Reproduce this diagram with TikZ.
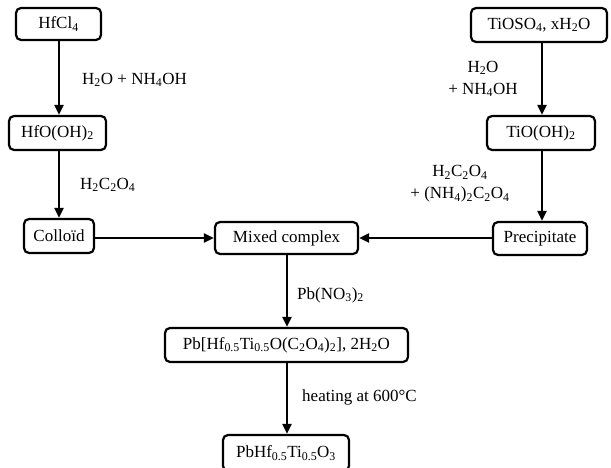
\documentclass[tikz,border=0pt]{standalone}
\usepackage{fontspec}
\setmainfont{Liberation Serif}
\usetikzlibrary{arrows.meta}
\newcommand{\sbs}[1]{\textsubscript{#1}}
\begin{document}
\begin{tikzpicture}[x=1pt,y=-1pt,
  box/.style={draw,line width=2.2pt,rounded corners=5pt,inner sep=0pt,font=\fontsize{17}{20}\selectfont},
  lbl/.style={inner sep=0pt,font=\fontsize{17}{21}\selectfont},
  arr/.style={line width=2pt,-{Triangle[length=10pt,width=9pt]}}]
\useasboundingbox (0,0) rectangle (611,468);
\node[box,minimum width=85pt,minimum height=32pt] (hfcl) at (58.5,24) {HfCl\sbs{4}};
\node[box,minimum width=97pt,minimum height=34pt] (hfo) at (57.5,133) {HfO(OH)\sbs{2}};
\node[box,minimum width=70pt,minimum height=34pt] (col) at (59,236) {Colloïd};
\node[box,minimum width=136pt,minimum height=34pt] (tis) at (539,25) {TiOSO\sbs{4}, xH\sbs{2}O};
\node[box,minimum width=108pt,minimum height=34pt] (tio) at (541,133) {TiO(OH)\sbs{2}};
\node[box,minimum width=94pt,minimum height=33pt] (pre) at (540,238.5) {Precipitate};
\node[box,minimum width=143pt,minimum height=32pt] (mix) at (286.5,238) {Mixed complex};
\node[box,minimum width=243pt,minimum height=34pt] (pbc) at (286.5,345) {Pb[Hf\sbs{0.5}Ti\sbs{0.5}O(C\sbs{2}O\sbs{4})\sbs{2}], 2H\sbs{2}O};
\node[box,minimum width=126pt,minimum height=36pt] (pbh) at (286,453) {PbHf\sbs{0.5}Ti\sbs{0.5}O\sbs{3}};
\coordinate (lx) at (59,0);
\coordinate (rx) at (542,0);
\coordinate (mx) at (287,0);
\coordinate (hy) at (0,238);
\draw[arr] (hfcl.south -| lx) -- (hfo.north -| lx);
\draw[arr] (hfo.south -| lx) -- (col.north -| lx);
\draw[arr] (tis.south -| rx) -- (tio.north -| rx);
\draw[arr] (tio.south -| rx) -- (pre.north -| rx);
\draw[arr] (col.east |- hy) -- (mix.west |- hy);
\draw[arr] (pre.west |- hy) -- (mix.east |- hy);
\draw[arr] (mix.south -| mx) -- (pbc.north -| mx);
\draw[arr] (pbc.south -| mx) -- (pbh.north -| mx);
\node[lbl,anchor=west] (l1) at (82,80) {H\sbs{2}O + NH\sbs{4}OH};
\node[lbl,anchor=west] (l2) at (80,185) {H\sbs{2}C\sbs{2}O\sbs{4}};
\node[lbl,align=center] (l3) at (483,79) {H\sbs{2}O\\[1pt] + NH\sbs{4}OH};
\node[lbl,align=center] (l4) at (460,184) {H\sbs{2}C\sbs{2}O\sbs{4}\\[1pt] + (NH\sbs{4})\sbs{2}C\sbs{2}O\sbs{4}};
\node[lbl,anchor=west] (l5) at (297,295) {Pb(NO\sbs{3})\sbs{2}};
\node[lbl,anchor=west] (l6) at (302,397) {heating at 600°C};
\end{tikzpicture}
\end{document}
